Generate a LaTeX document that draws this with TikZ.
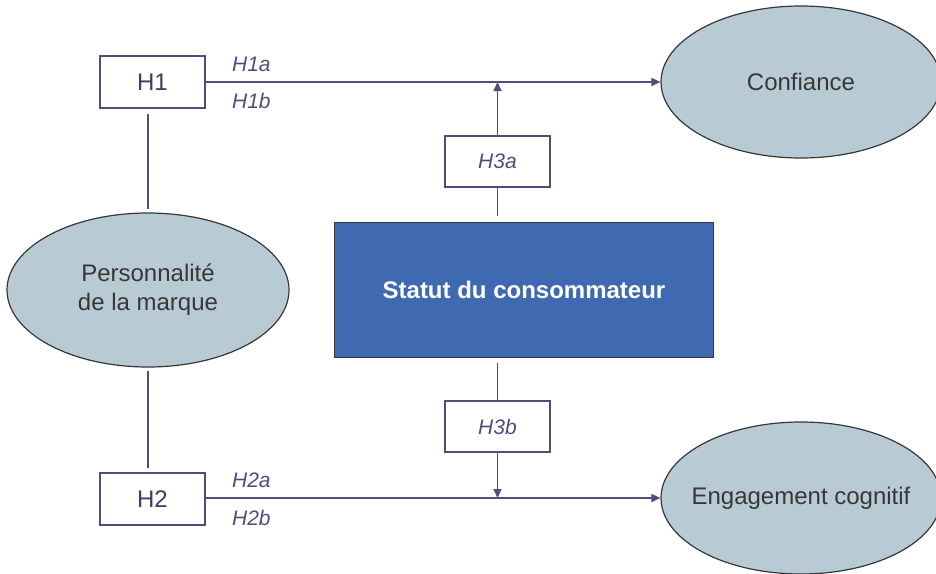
\documentclass[tikz,border=0pt]{standalone}
\usepackage{fontspec}
\setmainfont{Liberation Sans}
\usetikzlibrary{arrows.meta,shapes.geometric}
\definecolor{ink}{RGB}{80,77,125}
\definecolor{inkdark}{RGB}{62,60,100}
\definecolor{cloud}{RGB}{184,203,212}
\definecolor{royal}{RGB}{63,106,178}
\definecolor{txt}{RGB}{55,55,55}
\tikzset{
    hyp/.style={rectangle, draw=ink, line width=1.8pt, fill=white, minimum width=105pt, minimum height=52pt, text=inkdark, font=\fontsize{24}{28}\selectfont},
    subhyp/.style={rectangle, draw=ink, line width=1.6pt, fill=white, minimum width=105pt, minimum height=51pt, text=ink, font=\itshape\fontsize{21}{24}\selectfont},
    var/.style={ellipse, draw=txt, line width=1.2pt, fill=cloud, inner sep=0pt, text=txt, align=center, font=\fontsize{24}{29}\selectfont},
    statut/.style={rectangle, draw=txt, line width=1.2pt, fill=royal, minimum width=379pt, minimum height=135pt, text=white, font=\bfseries\fontsize{24}{28}\selectfont},
    lien/.style={draw=ink, line width=1.8pt},
    fleche/.style={lien, -{Triangle[length=9pt, width=8pt]}},
    lbl/.style={text=ink, font=\itshape\fontsize{21}{24}\selectfont}
}
\begin{document}
\begin{tikzpicture}[x=1pt, y=-1pt]
    \useasboundingbox (0,0) rectangle (936,573);

    \node[hyp] (H1) at (152.5,82) {H1};
    \node[hyp] (H2) at (152.5,499) {H2};
    \node[var, minimum width=282pt, minimum height=154pt] (perso) at (148,290) {Personnalité\\de la marque};
    \node[var, minimum width=280pt, minimum height=152pt] (conf) at (801,82) {Confiance};
    \node[var, minimum width=280pt, minimum height=152pt, inner xsep=-30pt] (engag) at (801,498) {Engagement cognitif};
    \node[statut] (stat) at (524,290) {Statut du consommateur};
    \node[subhyp] (H3a) at (497.5,161.5) {H3a};
    \node[subhyp] (H3b) at (497.5,426.5) {H3b};

    \coordinate (j1) at (H3a |- conf);
    \coordinate (j2) at (H3b |- engag);

    \draw[lien, shorten <=5pt, shorten >=3pt] (H1.south -| perso.north) -- (perso.north);
    \draw[lien, shorten <=3pt, shorten >=4pt] (perso.south) -- (H2.north -| perso.south);

    \draw[fleche] (H1.east) -- (conf.west)
        node[lbl, pos=0.1, yshift=18pt] {H1a}
        node[lbl, pos=0.1, yshift=-19pt] {H1b};
    \draw[fleche] (H2.east |- engag) -- (engag.west)
        node[lbl, pos=0.1, yshift=18pt] {H2a}
        node[lbl, pos=0.1, yshift=-20pt] {H2b};

    \draw[lien, shorten <=6pt] (stat.north -| H3a) -- (H3a.south);
    \draw[fleche] (H3a.north) -- (j1);
    \draw[lien, shorten <=5pt] (stat.south -| H3b) -- (H3b.north);
    \draw[fleche] (H3b.south) -- (j2);
\end{tikzpicture}
\end{document}
